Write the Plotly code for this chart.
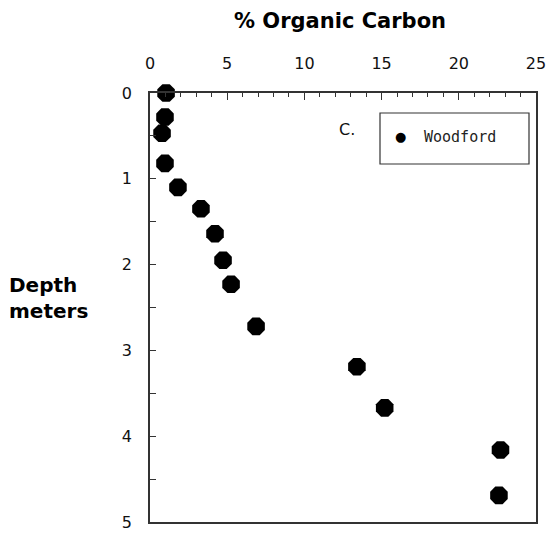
import plotly.graph_objects as go

# Woodford shale: organic carbon (%) against depth (m)
organic_carbon = [1.04, 0.97, 0.78, 0.97, 1.81, 3.30, 4.21, 4.73, 5.25, 6.87, 13.4, 15.2, 22.7, 22.6]
depth_m = [0.0, 0.28, 0.47, 0.82, 1.10, 1.35, 1.64, 1.95, 2.23, 2.72, 3.19, 3.67, 4.16, 4.69]
x_ticks = [0, 5, 10, 15, 20, 25]
y_ticks = [0, 1, 2, 3, 4, 5]
series_name = "Woodford"

W, H = 550, 536
L, R, T, B = 150, 14, 93, 14
PW, PH = W - L - R, H - T - B


def px(x):
    return (x - L) / PW


def py(y):
    return 1 - (y - T) / PH


tick_font = dict(family="DejaVu Sans, sans-serif", size=16, color="#111")
bold_font = dict(family="DejaVu Sans, sans-serif", size=21, color="#000", weight="bold")
side_font = dict(family="DejaVu Sans, sans-serif", size=20, color="#000", weight="bold")

fig = go.Figure()
fig.add_trace(go.Scatter(
    x=organic_carbon, y=depth_m, mode="markers", name=series_name,
    marker=dict(symbol="octagon", size=19, color="#000", line=dict(width=0)),
    showlegend=False, cliponaxis=False,
))

axis_line = dict(showline=True, linecolor="#333", linewidth=1.5, mirror=True,
                 showgrid=False, zeroline=False, automargin=False)

fig.update_xaxes(
    range=[0, 25], side="top", tickvals=x_ticks, ticks="inside", ticklen=7,
    tickcolor="#333", tickwidth=1.2, tickfont=tick_font, ticklabelstandoff=16,
    minor=dict(dtick=1, ticks="inside", ticklen=4, tickcolor="#333", tickwidth=1.2),
    **axis_line,
)
fig.update_yaxes(
    range=[5, 0], tickvals=y_ticks, ticks="inside", ticklen=6,
    tickcolor="#333", tickwidth=1.2, tickfont=tick_font, ticklabelstandoff=13,
    minor=dict(dtick=0.5, ticks="inside", ticklen=6, tickcolor="#333", tickwidth=1.2),
    **axis_line,
)

annotations = [
    dict(text="% Organic Carbon", x=px(340), y=py(21), font=bold_font),
    dict(text="Depth", x=px(7), y=py(285), xanchor="left", font=side_font),
    dict(text="meters", x=px(7), y=py(311), xanchor="left", font=side_font),
    dict(text="C.", x=px(347), y=py(129),
         font=dict(family="DejaVu Sans, sans-serif", size=16, color="#111")),
    dict(text="\u25CF", x=px(408), y=py(136), font=dict(family="DejaVu Sans", size=13, color="#000")),
    dict(text=series_name, x=px(422), y=py(137), xanchor="left",
         font=dict(family="DejaVu Sans Mono, monospace", size=15, color="#222")),
]
for a in annotations:
    a.update(xref="paper", yref="paper", showarrow=False, yanchor="middle")

fig.update_layout(
    width=W, height=H, margin=dict(l=L, r=R, t=T, b=B),
    paper_bgcolor="white", plot_bgcolor="white",
    annotations=annotations,
    shapes=[dict(type="rect", xref="paper", yref="paper",
                 x0=px(380), x1=px(529), y0=py(164), y1=py(113),
                 line=dict(color="#333", width=1.2))],
)

fig.write_html("out.html")
